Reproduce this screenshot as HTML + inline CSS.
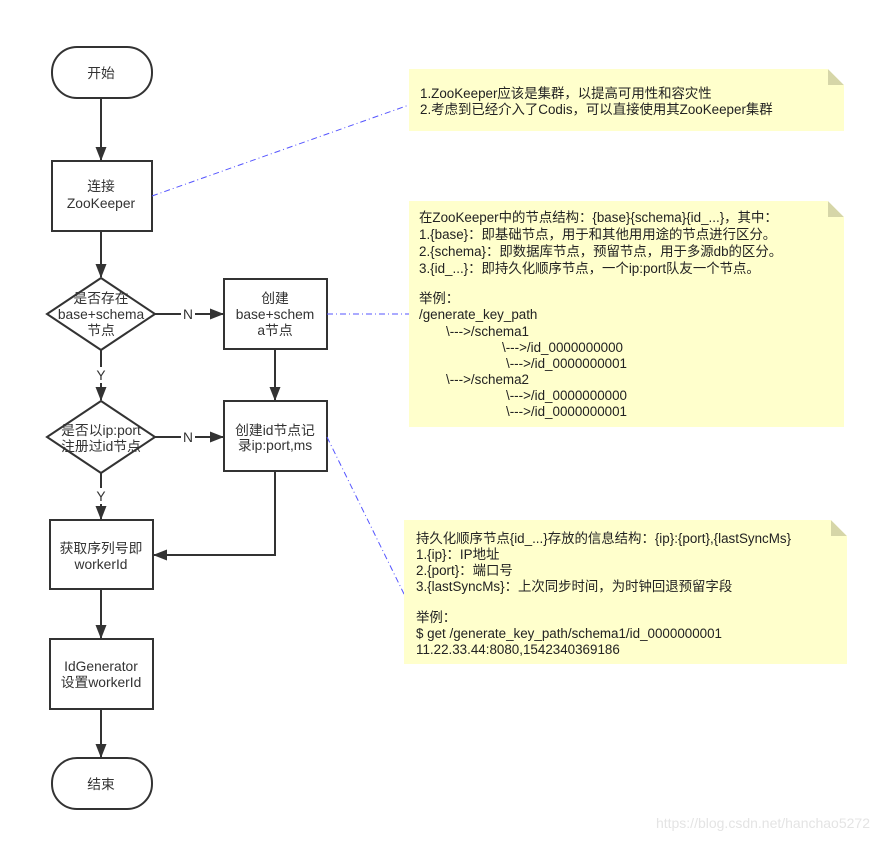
<!DOCTYPE html>
<html><head><meta charset="utf-8"><style>
html,body{margin:0;padding:0;background:#fff;}
svg{display:block;}
text{font-family:"Liberation Sans","Noto Sans CJK SC",sans-serif;font-size:13.8px;fill:#333;}
.n text{font-size:13.4px;fill:#222;}
</style></head><body>
<svg width="878" height="841" viewBox="0 0 878 841" xmlns="http://www.w3.org/2000/svg">
<defs>
<marker id="b" viewBox="0 0 14 12" markerWidth="14" markerHeight="12" refX="13" refY="6" orient="auto" markerUnits="userSpaceOnUse"><path d="M0,0.5 L14,6 L0,11.5 Z" fill="#333"/></marker>
</defs>
<g stroke="#333" stroke-width="2" fill="none">
<line x1="101" y1="98" x2="101" y2="160" marker-end="url(#b)"/>
<line x1="101" y1="231" x2="101" y2="277" marker-end="url(#b)"/>
<line x1="155" y1="314" x2="223" y2="314" marker-end="url(#b)"/>
<line x1="275" y1="349" x2="275" y2="400" marker-end="url(#b)"/>
<line x1="101" y1="350" x2="101" y2="400" marker-end="url(#b)"/>
<line x1="155" y1="437" x2="223" y2="437" marker-end="url(#b)"/>
<line x1="101" y1="473" x2="101" y2="519" marker-end="url(#b)"/>
<polyline points="275,471 275,555 154,555" marker-end="url(#b)"/>
<line x1="101" y1="589" x2="101" y2="638" marker-end="url(#b)"/>
<line x1="101" y1="709" x2="101" y2="757" marker-end="url(#b)"/>
<rect x="52" y="47" width="100" height="51" rx="25" fill="#fff"/>
<rect x="52" y="161" width="100" height="70" fill="#fff"/>
<polygon points="101,278 155,314 101,350 47,314" fill="#fff"/>
<rect x="224" y="279" width="103" height="70" fill="#fff"/>
<polygon points="101,401 155,437 101,473 47,437" fill="#fff"/>
<rect x="224" y="401" width="103" height="70" fill="#fff"/>
<rect x="50" y="520" width="103" height="69" fill="#fff"/>
<rect x="50" y="639" width="103" height="70" fill="#fff"/>
<rect x="52" y="758" width="100" height="51" rx="25" fill="#fff"/>
</g>
<rect x="181" y="306" width="14" height="16" fill="#fff"/>
<rect x="181" y="429" width="14" height="16" fill="#fff"/>
<rect x="94" y="367" width="14" height="16" fill="#fff"/>
<rect x="94" y="488" width="14" height="16" fill="#fff"/>
<g text-anchor="middle">
<text x="101" y="78">开始</text>
<text x="101" y="191">连接</text>
<text x="101" y="208">ZooKeeper</text>
<text x="101" y="303">是否存在</text>
<text x="101" y="319">base+schema</text>
<text x="101" y="335">节点</text>
<text x="188" y="319">N</text>
<text x="275" y="303">创建</text>
<text x="275" y="319">base+schem</text>
<text x="275" y="335">a节点</text>
<text x="101" y="380">Y</text>
<text x="101" y="435">是否以ip:port</text>
<text x="101" y="451">注册过id节点</text>
<text x="188" y="442">N</text>
<text x="275" y="435">创建id节点记</text>
<text x="275" y="450">录ip:port,ms</text>
<text x="101" y="501">Y</text>
<text x="101" y="553">获取序列号即</text>
<text x="101" y="569">workerId</text>
<text x="101" y="671">IdGenerator</text>
<text x="101" y="687">设置workerId</text>
<text x="101" y="789">结束</text>
</g>
<g stroke="#5555ff" stroke-width="1" stroke-dasharray="6,3,1,3" fill="none">
<line x1="152" y1="196" x2="409" y2="105"/>
<line x1="327" y1="314" x2="409" y2="314"/>
<line x1="327" y1="437" x2="405" y2="596"/>
</g>
<g class="n">
<polygon points="409,69 828,69 844,85 844,131 409,131" fill="#ffffcc"/>
<polygon points="828,69 844,85 828,85" fill="#d6d6a8"/>
<polygon points="828,69 844,85 844,69" fill="#fff"/>
<text x="420" y="98">1.ZooKeeper应该是集群，以提高可用性和容灾性</text>
<text x="420" y="114">2.考虑到已经介入了Codis，可以直接使用其ZooKeeper集群</text>

<polygon points="409,201 828,201 844,217 844,427 409,427" fill="#ffffcc"/>
<polygon points="828,201 844,217 828,217" fill="#d6d6a8"/>
<polygon points="828,201 844,201 844,217" fill="#fff"/>
<text x="419" y="222">在ZooKeeper中的节点结构：{base}{schema}{id_...}，其中：</text>
<text x="419" y="239">1.{base}：即基础节点，用于和其他用用途的节点进行区分。</text>
<text x="419" y="256">2.{schema}：即数据库节点，预留节点，用于多源db的区分。</text>
<text x="419" y="273">3.{id_...}：即持久化顺序节点，一个ip:port队友一个节点。</text>
<text x="419" y="303">举例：</text>
<text x="419" y="319">/generate_key_path</text>
<text x="446" y="336">\---&gt;/schema1</text>
<text x="502" y="352">\---&gt;/id_0000000000</text>
<text x="506" y="368">\---&gt;/id_0000000001</text>
<text x="446" y="384">\---&gt;/schema2</text>
<text x="506" y="400">\---&gt;/id_0000000000</text>
<text x="506" y="416">\---&gt;/id_0000000001</text>

<polygon points="404,520 831,520 847,536 847,664 404,664" fill="#ffffcc"/>
<polygon points="831,520 847,536 831,536" fill="#d6d6a8"/>
<polygon points="831,520 847,520 847,536" fill="#fff"/>
<text x="416" y="543">持久化顺序节点{id_...}存放的信息结构：{ip}:{port},{lastSyncMs}</text>
<text x="416" y="559">1.{ip}：IP地址</text>
<text x="416" y="575">2.{port}：端口号</text>
<text x="416" y="591">3.{lastSyncMs}：上次同步时间，为时钟回退预留字段</text>
<text x="416" y="622">举例：</text>
<text x="416" y="638">$ get /generate_key_path/schema1/id_0000000001</text>
<text x="416" y="654">11.22.33.44:8080,1542340369186</text>
</g>
<text x="870" y="828" text-anchor="end" style="font-size:14px;fill:#e4e4e4">https://blog.csdn.net/hanchao5272</text>
</svg>
</body></html>
